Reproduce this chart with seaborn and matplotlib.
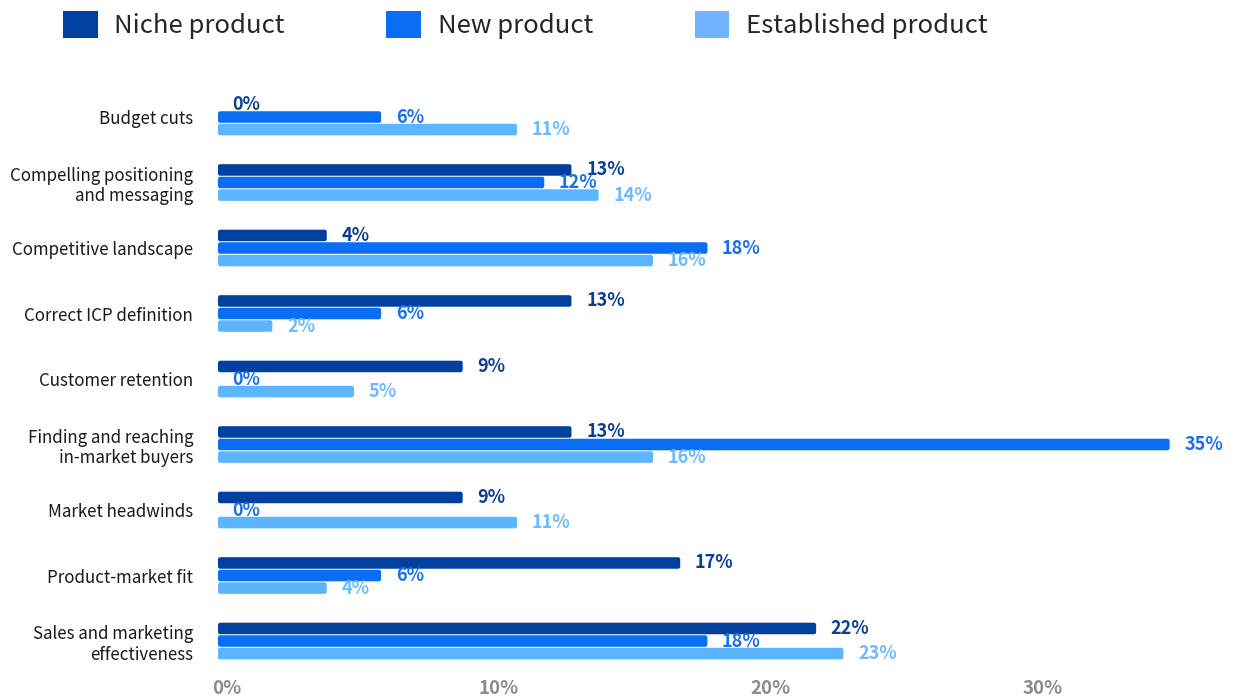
import matplotlib
matplotlib.use("Agg")
import matplotlib.pyplot as plt
import matplotlib.transforms as mtransforms
from matplotlib.patches import Patch, FancyBboxPatch
import pandas as pd
import seaborn as sns

# Challenge categories (y axis)
categories = [
    "Budget cuts",
    "Compelling positioning\nand messaging",
    "Competitive landscape",
    "Correct ICP definition",
    "Customer retention",
    "Finding and reaching\nin-market buyers",
    "Market headwinds",
    "Product-market fit",
    "Sales and marketing\neffectiveness",
]

# Share of respondents per product type (%)
niche_product = [0, 13, 4, 13, 9, 13, 9, 17, 22]
new_product = [6, 12, 18, 6, 0, 35, 0, 6, 18]
established_product = [11, 14, 16, 2, 5, 16, 11, 4, 23]

series_names = ["Niche product", "New product", "Established product"]
bar_colors = ["#0041A0", "#0A6EF5", "#5CB5FF"]
legend_colors = ["#0041A0", "#0A6EF5", "#70B4FF"]
label_colors = ["#0B3F95", "#1A6FEA", "#6CBAFF"]

x_ticks = [0, 10, 20, 30]
x_tick_labels = ["0%", "10%", "20%", "30%"]

df = pd.DataFrame({
    "category": categories * 3,
    "series": sum([[s] * len(categories) for s in series_names], []),
    "value": niche_product + new_product + established_product,
})

sns.set_theme(style="white")
plt.rcParams["font.family"] = ["Noto Sans CJK SC", "DejaVu Sans"]

W, H = 1233, 700
fig = plt.figure(figsize=(W / 100, H / 100), dpi=100)
ax_left, ax_right, ax_top, ax_bottom = 218, 1224, 80, 676
ax = fig.add_axes([ax_left / W, 1 - ax_bottom / H,
                   (ax_right - ax_left) / W, (ax_bottom - ax_top) / H])

x_max = 37
y_lim = (8.534, -0.565)
sns.barplot(
    data=df, x="value", y="category", hue="series",
    hue_order=series_names, order=categories,
    palette=bar_colors, orient="h", width=0.575, gap=0.08,
    saturation=1, legend=False, ax=ax, linewidth=0,
)
ax.set_xlim(0, x_max)
ax.set_ylim(*y_lim)

for container, color, values in zip(
        ax.containers, label_colors,
        [niche_product, new_product, established_product]):
    ax.bar_label(container, labels=[f"{v:.0f}%" for v in values],
                 padding=10.5, color=color, fontsize=13,
                 fontweight="semibold")

# Swap the square-cornered bars for slightly rounded ones
px_per_x = (ax_right - ax_left) / x_max
px_per_y = (ax_bottom - ax_top) / (y_lim[0] - y_lim[1])
radius_px = 2.2
for container in ax.containers:
    for bar in container:
        w, h = bar.get_width(), bar.get_height()
        bar.set_visible(False)
        if w <= 0:
            continue
        r = min(radius_px / px_per_x, w / 2)
        ax.add_patch(FancyBboxPatch(
            (bar.get_x(), bar.get_y()), w, h,
            boxstyle=f"round,pad=0,rounding_size={r}",
            mutation_aspect=px_per_x / px_per_y,
            facecolor=bar.get_facecolor(), edgecolor="none",
        ))

ax.set_xticks(x_ticks)
ax.set_xticklabels([])
offset = mtransforms.ScaledTranslation(9 / 100, -3 / 100, fig.dpi_scale_trans)
for t, lbl in zip(x_ticks, x_tick_labels):
    ax.text(t, 0, lbl, transform=ax.get_xaxis_transform() + offset,
            ha="center", va="top", color="#8C8C8C", fontsize=13.5,
            fontweight="bold")
ax.tick_params(axis="x", length=0)
ax.tick_params(axis="y", length=0, pad=18, labelsize=12.2,
               labelcolor="#1A1A1A")
ax.set_xlabel("")
ax.set_ylabel("")
for spine in ax.spines.values():
    spine.set_visible(False)
ax.grid(False)

handles = [Patch(facecolor=c, edgecolor="none") for c in legend_colors]
fig.legend(
    handles, series_names, loc="center left",
    bbox_to_anchor=(63 / W, 1 - 25 / H), ncol=3, frameon=False,
    fontsize=18.5, handlelength=1.36, handleheight=1.28,
    handletextpad=0.64, columnspacing=3.95,
    borderpad=0, borderaxespad=0,
)

fig.savefig("out.png", dpi=100, facecolor="white")
